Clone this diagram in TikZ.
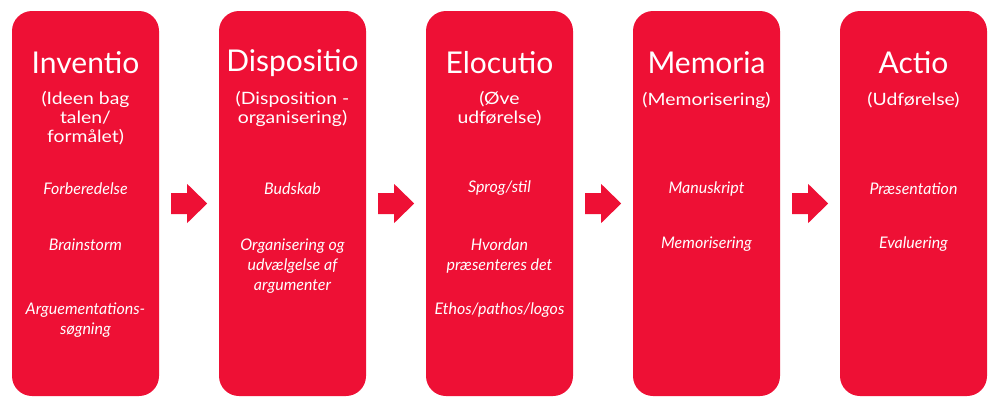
\documentclass[tikz,border=0pt]{standalone}
\usepackage{fontspec}
\setmainfont{Lato}
\newfontfamily\widelato[FakeStretch=1.14]{Lato}
\usetikzlibrary{positioning}
\definecolor{rhetred}{HTML}{EE1035}

\tikzset{
	stage/.style={fill=rhetred, rounded corners=20pt, minimum width=147pt, minimum height=385pt, inner sep=0pt},
	heading/.style={text=white, font=\fontsize{30}{34}\selectfont},
	subhead/.style={text=white, align=center, font=\widelato\fontsize{17}{19}\selectfont},
	item/.style={text=white, align=center, font=\fontsize{16}{20}\selectfont\itshape},
	blockarrow/.pic={\fill[rhetred] (0,-10.5) -- (16,-10.5) -- (16,-19.5) -- (36,0) -- (16,19.5) -- (16,10.5) -- (0,10.5) -- cycle;}
}

\begin{document}
\begin{tikzpicture}[x=1pt,y=-1pt]
		%\draw[blue,step=50] (0,0) grid (1000,408);
		\useasboundingbox (0,0) rectangle (1000,408);

		\node [stage] (inv) at (85.5,203.5) {};
		\node [stage] (dis) at (292.5,203.5) {};
		\node [stage] (elo) at (499.5,203.5) {};
		\node [stage] (mem) at (706.5,203.5) {};
		\node [stage] (act) at (913.5,203.5) {};

		\foreach \s in {inv,dis,elo,mem}{
			\coordinate [right=12pt of \s] (a-\s);
			\pic at (a-\s) {blockarrow};
		}

		% Inventio
		\node [heading] (invh) at (85.5,63) {Inventio};
		\node [subhead] (invs) at (85.5,118.5) {(Ideen bag\\talen/\\formålet)};
		\node [item] (inv1) at (85.5,188.5) {Forberedelse};
		\node [item] (inv2) at (85.5,244.5) {Brainstorm};
		\node [item] (inv3) at (85.5,320) {Arguementations-\\søgning};

		% Dispositio
		\node [heading] (dish) at (292.5,63) {Dispositio};
		\node [subhead] (diss) at (292.5,109) {(Disposition -\\organisering)};
		\node [item] (dis1) at (292.5,188.5) {Budskab};
		\node [item] (dis2) at (292.5,266) {Organisering og\\udvælgelse af\\argumenter};

		% Elocutio
		\node [heading] (eloh) at (499.5,63) {Elocutio};
		\node [subhead] (elos) at (499.5,109) {(Øve\\udførelse)};
		\node [item] (elo1) at (499.5,188.5) {Sprog/stil};
		\node [item] (elo2) at (499.5,256) {Hvordan\\præsenteres det};
		\node [item] (elo3) at (499.5,310.5) {Ethos/pathos/logos};

		% Memoria
		\node [heading] (memh) at (706.5,63) {Memoria};
		\node [subhead] (mems) at (706.5,100) {(Memorisering)};
		\node [item] (mem1) at (706.5,188.5) {Manuskript};
		\node [item] (mem2) at (706.5,244.5) {Memorisering};

		% Actio
		\node [heading] (acth) at (913.5,63) {Actio};
		\node [subhead] (acts) at (913.5,100) {(Udførelse)};
		\node [item] (act1) at (913.5,188.5) {Præsentation};
		\node [item] (act2) at (913.5,244.5) {Evaluering};

	\end{tikzpicture}
\end{document}
